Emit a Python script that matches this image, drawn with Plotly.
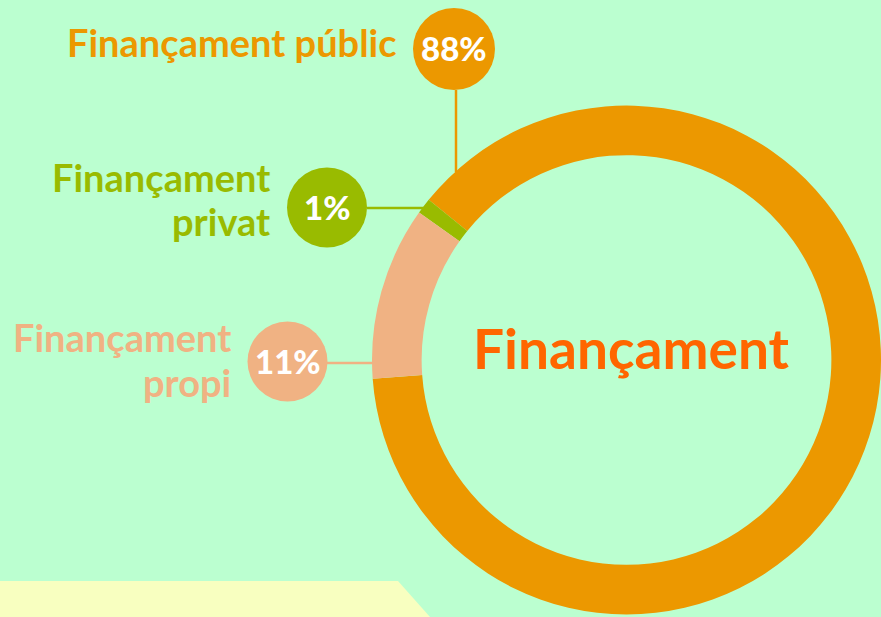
import plotly.graph_objects as go

# ---- data ----
categories = ["Finançament públic", "Finançament privat", "Finançament propi"]
values = [88, 1, 11]
label_lines = [["Finançament públic"], ["Finançament", "privat"], ["Finançament", "propi"]]
center_title = "Finançament"

colors = ["#EC9800", "#99BB00", "#F0B283"]
BG = "#BBFFD0"
W, H = 881, 617

def px(x):
    return x / W

def py(y):
    return 1 - y / H

fig = go.Figure()
fig.add_trace(go.Pie(
    labels=categories,
    values=values,
    hole=0.805,
    sort=False,
    direction="counterclockwise",
    rotation=-51,
    marker=dict(colors=colors, line=dict(width=0)),
    textinfo="none",
    hoverinfo="label+percent",
    showlegend=False,
    domain=dict(x=[372 / W, 1.0], y=[1 / H, 513 / H]),
))

shapes = []
# yellow band bottom-left
shapes.append(dict(type="path", xref="paper", yref="paper",
                   path=f"M 0 {py(581)} L {px(398)} {py(581)} L {px(430)} {py(617)} L 0 {py(617)} Z",
                   fillcolor="#F8FFC0", line=dict(width=0), layer="below"))

# label bubbles: (cx, cy, r), connector line
bubbles = [(454, 49, 41), (327, 207.5, 40), (287.5, 361.5, 40)]
connectors = [((456, 90), (456, 172)), ((367, 208), (427, 208)), ((327, 363), (379, 363))]
# per-line label anchors (right edge x, cap-middle y)
text_anchor = [[(397, 45)], [(270, 180), (270, 224)], [(231, 339.5), (231, 385)]]
LBL_SIZE = 38

for i, ((cx, cy, r), (p0, p1)) in enumerate(zip(bubbles, connectors)):
    shapes.append(dict(type="line", xref="paper", yref="paper",
                       x0=px(p0[0]), y0=py(p0[1]), x1=px(p1[0]), y1=py(p1[1]),
                       line=dict(color=colors[i], width=2.5), layer="below"))
    shapes.append(dict(type="circle", xref="paper", yref="paper",
                       x0=px(cx - r), x1=px(cx + r), y0=py(cy + r), y1=py(cy - r),
                       fillcolor=colors[i], line=dict(width=0), layer="above"))

annotations = []
for i, v in enumerate(values):
    cx, cy, r = bubbles[i]
    annotations.append(dict(xref="paper", yref="paper", x=px(cx), y=py(cy - 1),
                            text=f"{v}%", showarrow=False, xanchor="center", yanchor="middle",
                            font=dict(family="Lato", size=33, color="white", weight=900)))
    for line, (tx, ty) in zip(label_lines[i], text_anchor[i]):
        annotations.append(dict(xref="paper", yref="paper", x=px(tx), y=py(ty - 2.7),
                                text=line, showarrow=False, xanchor="right", yanchor="middle",
                                xshift=2,
                                font=dict(family="Lato", size=LBL_SIZE, color=colors[i], weight=700)))

annotations.append(dict(xref="paper", yref="paper", x=px(631), y=py(348),
                        text=center_title, showarrow=False, xanchor="center", yanchor="middle",
                        font=dict(family="Lato", size=55, color="#FF6600", weight=700)))

fig.update_layout(
    width=W, height=H,
    margin=dict(l=0, r=0, t=0, b=0),
    paper_bgcolor=BG, plot_bgcolor=BG,
    shapes=shapes, annotations=annotations,
)

fig.write_html("out.html",
               config={"displayModeBar": False},
               post_script="document.body.style.margin='0';document.body.style.padding='0';"
                           "document.documentElement.style.overflow='hidden';")
